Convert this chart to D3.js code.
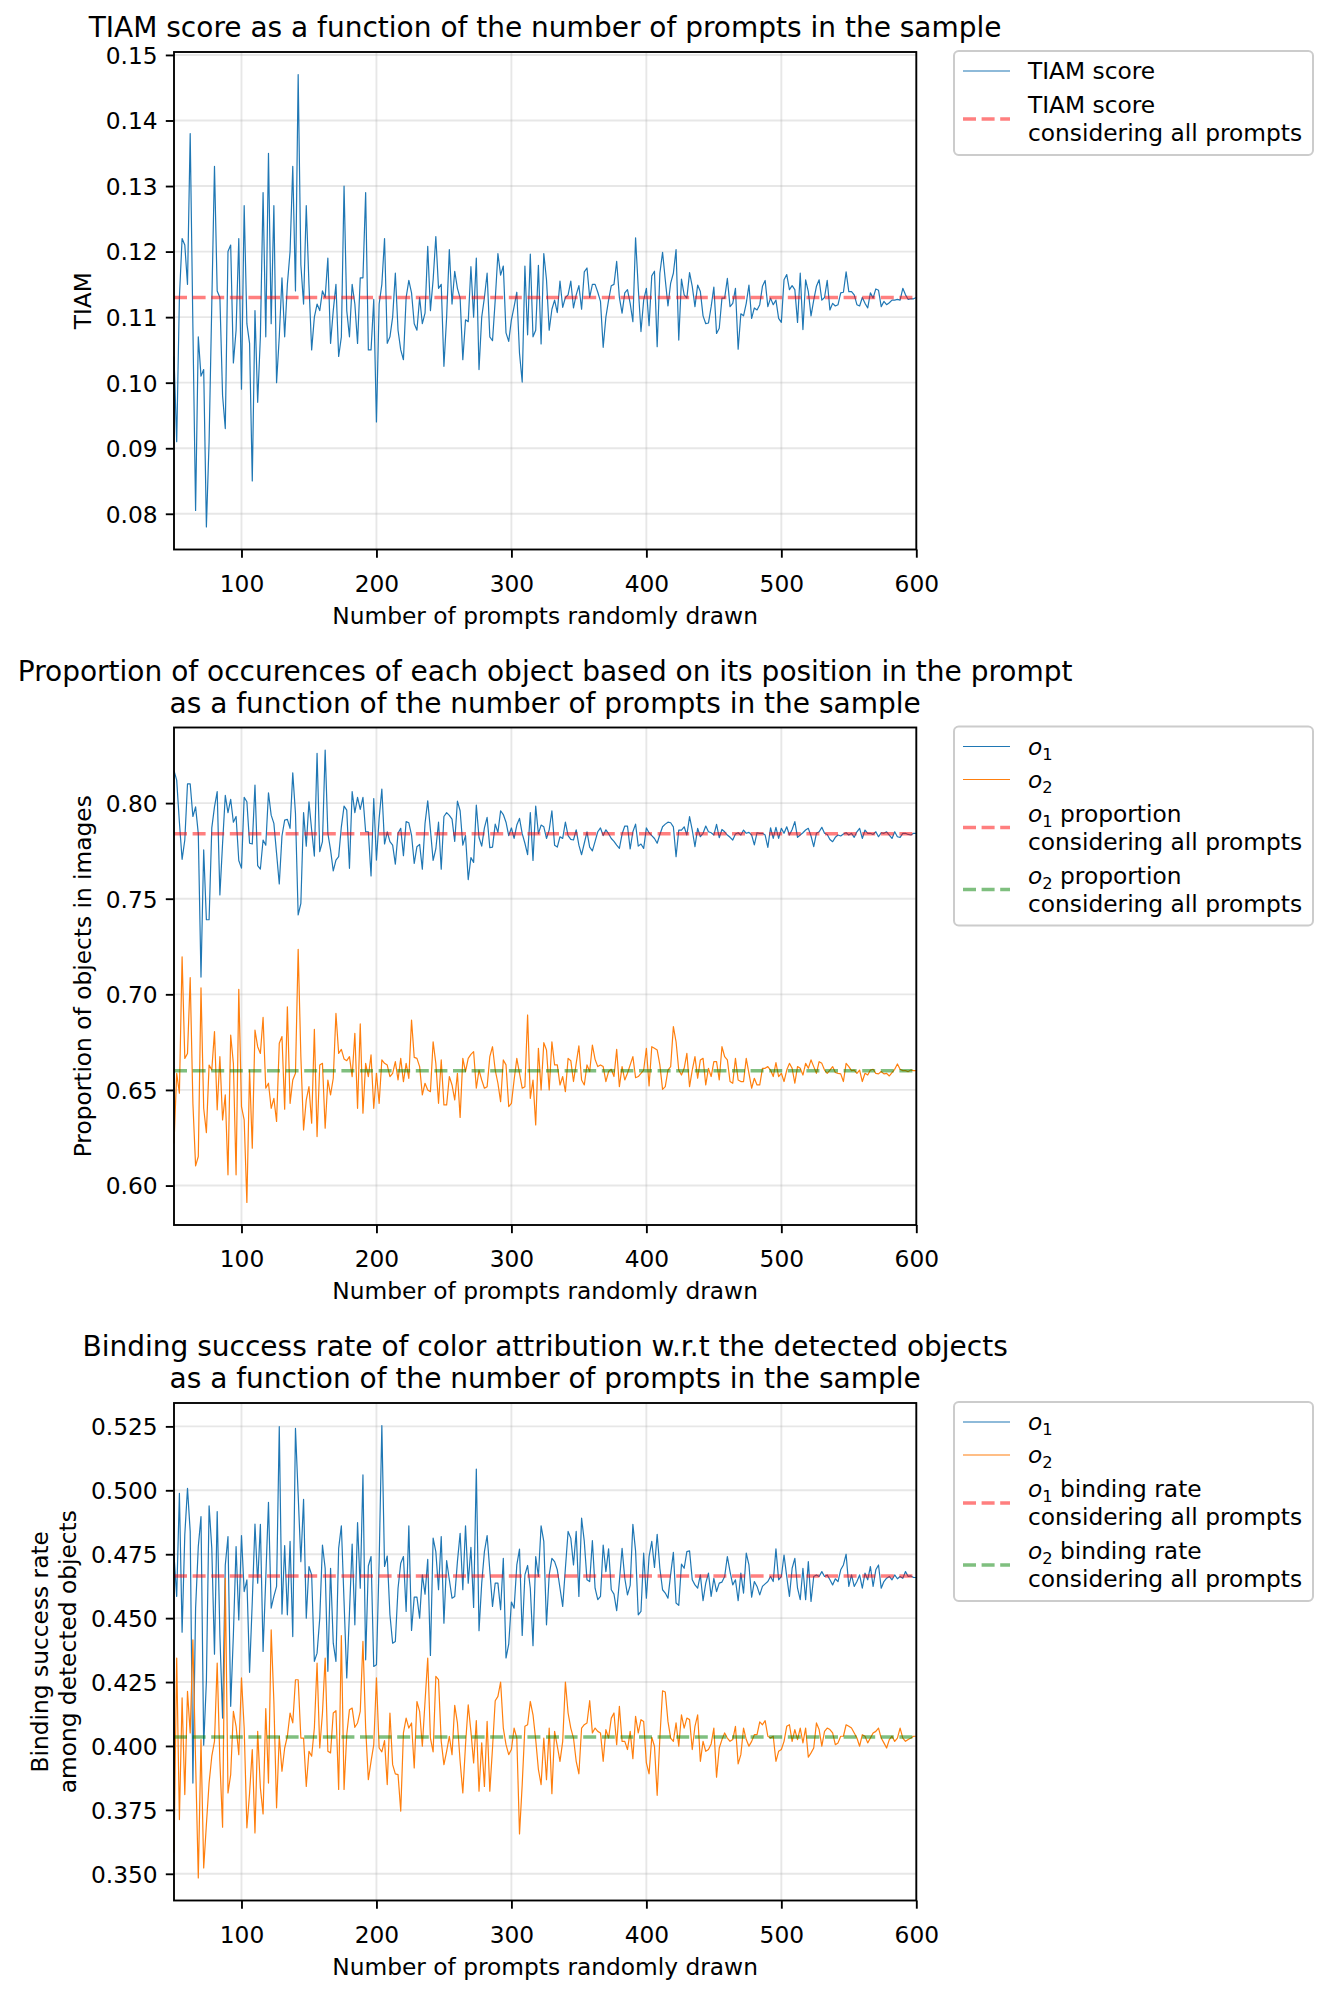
<!DOCTYPE html>
<html>
<head>
<meta charset="utf-8">
<script src="https://cdn.jsdelivr.net/npm/d3@7"></script>
<style>
  body { margin: 0; background: #fff; }
  svg { display: block; }
  text { font-family: "DejaVu Sans", sans-serif; fill: #000; }
</style>
</head>
<body>
<svg id="chart"></svg>
<script>
// number of prompts drawn for each sample
const promptCounts = d3.range(50, 601, 2);

const tiamScore = [
  0.104, 0.091, 0.113, 0.122, 0.121, 0.115, 0.138, 0.1085, 0.0805, 0.107,
  0.101, 0.102, 0.078, 0.091, 0.112, 0.133, 0.114, 0.113, 0.098, 0.093,
  0.120, 0.121, 0.103, 0.108, 0.122, 0.099, 0.127, 0.109, 0.106, 0.085,
  0.111, 0.097, 0.107, 0.129, 0.107, 0.135, 0.109, 0.127, 0.100, 0.107,
  0.116, 0.107, 0.115, 0.120, 0.133, 0.114, 0.147, 0.118, 0.112, 0.127,
  0.115, 0.105, 0.110, 0.112, 0.111, 0.114, 0.113, 0.119, 0.106, 0.111,
  0.115, 0.104, 0.107, 0.130, 0.111, 0.107, 0.115, 0.112, 0.106, 0.116,
  0.116, 0.129, 0.105, 0.105, 0.1127, 0.094, 0.112, 0.115, 0.122, 0.106,
  0.107, 0.110, 0.1167, 0.108, 0.105, 0.1035, 0.113, 0.1156, 0.1137, 0.109,
  0.108, 0.113, 0.109, 0.1106, 0.1208, 0.111, 0.1157, 0.1223, 0.1144, 0.115,
  0.1025, 0.110, 0.1203, 0.112, 0.117, 0.1144, 0.1129, 0.1035, 0.1096, 0.1093,
  0.1177, 0.110, 0.119, 0.102, 0.110, 0.113, 0.1167, 0.107, 0.1064, 0.1126,
  0.1197, 0.1164, 0.1178, 0.1076, 0.1063, 0.1096, 0.1116, 0.1138, 0.1045, 0.1001,
  0.1178, 0.1073, 0.1196, 0.107, 0.108, 0.1179, 0.1059, 0.1197, 0.1157, 0.108,
  0.1112, 0.1126, 0.1107, 0.1155, 0.1115, 0.113, 0.1134, 0.1155, 0.1114, 0.1134,
  0.1148, 0.1112, 0.1169, 0.1175, 0.113, 0.115, 0.115, 0.1138, 0.1124, 0.1054,
  0.110, 0.1126, 0.1148, 0.115, 0.1185, 0.113, 0.1106, 0.1137, 0.1142, 0.1121,
  0.1093, 0.1221, 0.1144, 0.1078, 0.1126, 0.1144, 0.1087, 0.1163, 0.117, 0.1055,
  0.1167, 0.1199, 0.1157, 0.1117, 0.1152, 0.1167, 0.1203, 0.1065, 0.1158, 0.1134,
  0.1129, 0.1168, 0.1147, 0.1116, 0.1149, 0.1139, 0.1102, 0.1090, 0.1091, 0.1116,
  0.1146, 0.1075, 0.1083, 0.1129, 0.1129, 0.1159, 0.1116, 0.1121, 0.1144, 0.1051,
  0.1105, 0.1102, 0.1121, 0.1149, 0.1098, 0.1114, 0.1111, 0.1119, 0.1147, 0.1156,
  0.1116, 0.1129, 0.1119, 0.1126, 0.1098, 0.1092, 0.1157, 0.1165, 0.1142, 0.1148,
  0.1142, 0.1092, 0.1167, 0.1081, 0.1157, 0.1139, 0.1102, 0.1126, 0.1147, 0.1157,
  0.1126, 0.1130, 0.1156, 0.1111, 0.1121, 0.1117, 0.1119, 0.1137, 0.1138, 0.1169,
  0.1139, 0.1139, 0.1134, 0.1119, 0.1117, 0.1130, 0.1121, 0.1114, 0.1137, 0.1129,
  0.1143, 0.1141, 0.1116, 0.1124, 0.1119, 0.1122, 0.1126, 0.1126, 0.1127, 0.1126,
  0.1144, 0.1134, 0.1127, 0.1128, 0.1128, 0.1130
];
const tiamAllPrompts = 0.113;

const o1Proportion = [
  0.817, 0.812, 0.790, 0.7706, 0.7807, 0.810, 0.810, 0.793, 0.798, 0.784,
  0.709, 0.7755, 0.739, 0.739, 0.787, 0.798, 0.806, 0.752, 0.779, 0.804,
  0.795, 0.802, 0.790, 0.793, 0.770, 0.766, 0.803, 0.8007, 0.779, 0.7786,
  0.8094, 0.7673, 0.7655, 0.7807, 0.778, 0.8054, 0.7937, 0.7894, 0.7737, 0.7577,
  0.7828, 0.7911, 0.7915, 0.7868, 0.8158, 0.7946, 0.7415, 0.7476, 0.795, 0.7775,
  0.8007, 0.7859, 0.7723, 0.826, 0.7746, 0.7798, 0.8277, 0.7842, 0.7755, 0.7645,
  0.7702, 0.772, 0.7876, 0.7984, 0.7963, 0.7659, 0.806, 0.795, 0.803, 0.7967,
  0.803, 0.785, 0.785, 0.7619, 0.8024, 0.7702, 0.792, 0.8073, 0.7786, 0.785,
  0.7798, 0.778, 0.7681, 0.7842, 0.7868, 0.7725, 0.7903, 0.7897, 0.7833, 0.7685,
  0.7772, 0.7784, 0.7654, 0.7894, 0.8012,
  0.786, 0.770, 0.776, 0.790, 0.7654, 0.793, 0.795, 0.7936, 0.7916, 0.780,
  0.801, 0.796, 0.778, 0.783, 0.760, 0.7715, 0.769, 0.799, 0.782, 0.7775,
  0.787, 0.7925, 0.7767, 0.777, 0.789, 0.7847, 0.796, 0.794, 0.790, 0.783,
  0.787, 0.7815, 0.7885, 0.792, 0.784, 0.779, 0.773, 0.795, 0.770, 0.7984,
  0.784, 0.7885, 0.7876, 0.7815, 0.786, 0.796, 0.778, 0.777, 0.7824, 0.7815,
  0.790, 0.783, 0.781, 0.7807, 0.786, 0.778, 0.773, 0.779, 0.785, 0.777,
  0.775, 0.780, 0.785, 0.787, 0.783, 0.786, 0.784, 0.7815, 0.780, 0.778,
  0.7763, 0.7838, 0.788, 0.788, 0.776, 0.785, 0.789, 0.7775, 0.7786, 0.7763,
  0.787, 0.7845, 0.783, 0.7815, 0.779, 0.7836, 0.7876, 0.789, 0.790, 0.7897,
  0.7876, 0.772,
  0.7859, 0.7859, 0.7876, 0.7833, 0.7929, 0.7859, 0.7772, 0.7868, 0.7824, 0.7842,
  0.7880, 0.7850, 0.7845, 0.7833, 0.7889, 0.7819, 0.7862, 0.7850, 0.7833, 0.7821,
  0.7807, 0.7838, 0.7845, 0.7833, 0.7859, 0.7842, 0.7847, 0.7833, 0.7781, 0.7845,
  0.7842, 0.7842, 0.7833, 0.7768, 0.7871, 0.7815, 0.7873, 0.7815, 0.7868, 0.7842,
  0.7876, 0.7833, 0.7862, 0.7903, 0.7821, 0.7833, 0.7845, 0.7859, 0.7868, 0.7828,
  0.7772, 0.7842, 0.7850, 0.7873, 0.7842, 0.7836, 0.7810, 0.7798, 0.7821, 0.7833,
  0.7828, 0.7838, 0.7845, 0.7833, 0.7842, 0.7821, 0.7850, 0.7868, 0.7815, 0.7859,
  0.7842, 0.7842, 0.7836, 0.7850, 0.7824, 0.7845, 0.7842, 0.7850, 0.7833, 0.7815,
  0.7850, 0.7824, 0.7821, 0.7842, 0.7842, 0.7836, 0.7833, 0.7842, 0.7842
];
const o2Proportion = [
  0.622, 0.6587, 0.6483, 0.7196, 0.6665, 0.6691, 0.7087, 0.643, 0.6103, 0.6152,
  0.7034, 0.6404, 0.6277, 0.663, 0.6604, 0.6805, 0.6396, 0.6674, 0.6343, 0.6474,
  0.6056, 0.6787, 0.6639, 0.6056, 0.7026, 0.6413, 0.6343, 0.5912, 0.6604, 0.6195,
  0.6813, 0.6726, 0.6691, 0.6879, 0.6509, 0.6535, 0.6404, 0.6456, 0.6335, 0.6744,
  0.6779, 0.6399, 0.6935, 0.643, 0.6552, 0.6587, 0.7235, 0.6674, 0.6291, 0.6448,
  0.6517, 0.6326, 0.6817, 0.6256, 0.663, 0.6639, 0.63, 0.6552, 0.6474, 0.6561,
  0.69, 0.6691, 0.6712, 0.6662, 0.6653, 0.6674, 0.657, 0.6796, 0.6404, 0.6845,
  0.6378, 0.6639, 0.657, 0.6683, 0.6404, 0.6587, 0.643, 0.6657, 0.6639, 0.663,
  0.657, 0.6587, 0.6648, 0.6552, 0.6665, 0.6543, 0.6639, 0.6561, 0.6865, 0.667,
  0.6665, 0.6622, 0.6474, 0.6535, 0.65,
  0.6491, 0.6752, 0.6639, 0.6430, 0.6657, 0.6422, 0.6422, 0.6570, 0.6526, 0.6448,
  0.6587, 0.6356, 0.6665, 0.6596, 0.6665, 0.6686, 0.6700, 0.6509, 0.6604, 0.6552,
  0.6509, 0.6517, 0.6674, 0.6726, 0.6604, 0.6535, 0.6439, 0.6657, 0.6631, 0.6413,
  0.6430, 0.6552, 0.6665, 0.6587, 0.6509, 0.6517, 0.6892, 0.6456, 0.6552, 0.6317,
  0.6718, 0.6500, 0.6747, 0.6709, 0.6500, 0.6752, 0.6631, 0.6631, 0.6526, 0.6570,
  0.6491, 0.6665, 0.6653, 0.6544, 0.6639, 0.6730, 0.6552, 0.6526, 0.6631, 0.6596,
  0.6735, 0.6660, 0.6622, 0.6631, 0.6622, 0.6544, 0.6596, 0.6608, 0.6570, 0.6712,
  0.6517, 0.6622, 0.6552, 0.6587, 0.6631, 0.6674, 0.6564, 0.6570, 0.6587, 0.6604,
  0.6718, 0.6521, 0.6726, 0.6718, 0.6709, 0.6631, 0.6503, 0.6517, 0.6604, 0.6622,
  0.6831, 0.6752,
  0.6604, 0.6578, 0.6613, 0.6691, 0.6517, 0.6604, 0.6674, 0.6561, 0.6657, 0.6665,
  0.6526, 0.6613, 0.6570, 0.6648, 0.6648, 0.6552, 0.6726, 0.6674, 0.6657, 0.6544,
  0.6535, 0.6665, 0.6552, 0.6544, 0.6544, 0.6665, 0.6587, 0.6509, 0.6561, 0.6526,
  0.6526, 0.6613, 0.6613, 0.6622, 0.6604, 0.6570, 0.6643, 0.6570, 0.6587, 0.6544,
  0.6604, 0.6639, 0.6613, 0.6535, 0.6622, 0.6613, 0.6578, 0.6639, 0.6613, 0.6657,
  0.6622, 0.6587, 0.6648, 0.6639, 0.6604, 0.6587, 0.6604, 0.6622, 0.6591, 0.6587,
  0.6584, 0.6544, 0.6639, 0.6622, 0.6601, 0.6604, 0.6587, 0.6604, 0.6544, 0.6587,
  0.6578, 0.6604, 0.6608, 0.6587, 0.6584, 0.6596, 0.6584, 0.6587, 0.6573, 0.6591,
  0.6608, 0.6636, 0.6608, 0.6601, 0.6601, 0.6596, 0.6604, 0.6601, 0.6601
];
const o1ProportionAll = 0.784;
const o2ProportionAll = 0.660;

const o1Binding = [
  0.4747, 0.4585, 0.4988, 0.4445, 0.4826, 0.5008, 0.4839, 0.3855, 0.4539, 0.478,
  0.4897, 0.4003, 0.4253, 0.4939, 0.4773, 0.4359, 0.4917, 0.4435, 0.4109, 0.4708,
  0.4819, 0.4155, 0.4435, 0.478, 0.4493, 0.4823, 0.4604, 0.465, 0.4288, 0.4565,
  0.4868, 0.4637, 0.4867, 0.437, 0.4656, 0.4953, 0.4539, 0.4585, 0.4624, 0.5249,
  0.4516, 0.4784, 0.4513, 0.48, 0.4428, 0.5242, 0.4982, 0.4721, 0.4965, 0.45,
  0.4702, 0.4669, 0.4331, 0.4363, 0.45, 0.4786, 0.4695, 0.4292, 0.4695, 0.4402,
  0.4331, 0.4773, 0.4861, 0.4565, 0.4266, 0.452, 0.479, 0.4474, 0.4874, 0.4617,
  0.506, 0.4337, 0.4704, 0.4741, 0.4311, 0.4318, 0.4721, 0.5253, 0.4702, 0.4743,
  0.4513, 0.4402, 0.4409, 0.4617, 0.4715, 0.4741, 0.4526, 0.4861, 0.4452, 0.4582,
  0.4582, 0.45, 0.4669, 0.4594, 0.473,
  0.4354, 0.4813, 0.4760, 0.4611, 0.4819, 0.448, 0.4725, 0.465, 0.4578, 0.4585,
  0.4721, 0.4832, 0.4611, 0.4861, 0.4637, 0.4777, 0.4542, 0.5083, 0.4451, 0.4637,
  0.476, 0.4823, 0.4686, 0.4546, 0.4637, 0.4637, 0.4533, 0.4734, 0.4344, 0.4398,
  0.4563, 0.4539, 0.4708, 0.477, 0.4432, 0.4669, 0.4706, 0.4617, 0.4392, 0.4741,
  0.4663, 0.4861, 0.48, 0.4474, 0.4669, 0.4734, 0.4721, 0.4689, 0.4617, 0.4546,
  0.4695, 0.4839, 0.4813, 0.4708, 0.4839, 0.4585, 0.4891, 0.48, 0.465, 0.4643,
  0.4803, 0.4617, 0.4572, 0.4585, 0.4786, 0.4682, 0.4771, 0.4611, 0.4594, 0.4529,
  0.4643, 0.4773, 0.4656, 0.4591, 0.4628, 0.4867, 0.4763, 0.4513, 0.4526, 0.4754,
  0.4578, 0.4741, 0.48, 0.4698, 0.4828, 0.4695, 0.4611, 0.4598, 0.4578, 0.4672,
  0.4757, 0.4559,
  0.455, 0.4711, 0.4695, 0.476, 0.4763, 0.465, 0.463, 0.4617, 0.4669, 0.4568,
  0.4637, 0.4676, 0.4585, 0.4656, 0.4604, 0.4637, 0.4641, 0.4663, 0.4741, 0.4682,
  0.463, 0.465, 0.4568, 0.4676, 0.4598, 0.4754, 0.4708, 0.4582, 0.4643, 0.4624,
  0.4591, 0.4624, 0.4634, 0.4643, 0.4663, 0.4643, 0.4771, 0.465, 0.4663, 0.4747,
  0.4663, 0.4585, 0.4695, 0.4734, 0.4617, 0.4572, 0.4695, 0.4572, 0.4721, 0.4565,
  0.4663, 0.4669, 0.4663, 0.4682, 0.4663, 0.4669, 0.465, 0.463, 0.4654, 0.4643,
  0.4689, 0.4708, 0.475, 0.4624, 0.4669, 0.4624, 0.4643, 0.4669, 0.4617, 0.4676,
  0.465, 0.4702, 0.4624, 0.4689, 0.4708, 0.4617, 0.4643, 0.4656, 0.4663, 0.465,
  0.4669, 0.4654, 0.4663, 0.4656, 0.4682, 0.4663, 0.4665, 0.4659, 0.4659
];
const o2Binding = [
  0.3582, 0.4344, 0.3712, 0.4188, 0.381, 0.4214, 0.4051, 0.4415, 0.394, 0.3484,
  0.4025, 0.3523, 0.3693, 0.3855, 0.396, 0.4018, 0.4324, 0.394, 0.3682, 0.4656,
  0.3816, 0.3888, 0.4135, 0.4077, 0.3966, 0.4266, 0.407, 0.368, 0.3816, 0.3986,
  0.366, 0.4057, 0.3836, 0.3734, 0.4146, 0.3855, 0.4454, 0.4174, 0.3758, 0.4038,
  0.3901, 0.3992, 0.4038, 0.4129, 0.409, 0.4259, 0.4259, 0.4031, 0.4031, 0.3842,
  0.3979, 0.396, 0.407, 0.4324, 0.3992, 0.4129, 0.4344, 0.3979, 0.3973, 0.4129,
  0.4138, 0.383, 0.4432, 0.383, 0.4044, 0.4142, 0.4148, 0.4073, 0.409, 0.4135,
  0.4409, 0.407, 0.3868, 0.394, 0.4005, 0.4266, 0.3992, 0.3977, 0.4021, 0.3849,
  0.4129, 0.3927, 0.3891, 0.3888, 0.3745, 0.4051, 0.4109, 0.407, 0.409, 0.3914,
  0.4174, 0.4135, 0.3999, 0.4174, 0.4344,
  0.4031, 0.3977, 0.4272, 0.4259, 0.4018, 0.3927, 0.3979, 0.4038, 0.3966, 0.4159,
  0.409, 0.394, 0.3816, 0.4005, 0.4161, 0.4057, 0.3934, 0.4099, 0.3823, 0.4012,
  0.3842, 0.4096, 0.3823, 0.3992, 0.4177, 0.4194, 0.425, 0.407, 0.4005, 0.3966,
  0.3986, 0.407, 0.4031, 0.3656, 0.3849, 0.4077, 0.4083, 0.4174, 0.4122, 0.4025,
  0.3908, 0.3849, 0.4031, 0.3868, 0.407, 0.3813, 0.4057, 0.3999, 0.394, 0.4018,
  0.425, 0.4129, 0.407, 0.4031, 0.394, 0.3891, 0.407, 0.4083, 0.409, 0.4177,
  0.4051, 0.407, 0.4057, 0.4051, 0.394, 0.4064, 0.4031, 0.4109, 0.4129, 0.4005,
  0.4155, 0.4018, 0.4018, 0.3986, 0.4057, 0.395, 0.4116, 0.4051, 0.4103, 0.4096,
  0.3934, 0.3891, 0.4034, 0.3999, 0.3807, 0.4031, 0.4216, 0.4211, 0.4096, 0.4031,
  0.4018, 0.409,
  0.3999, 0.4122, 0.407, 0.4109, 0.4103, 0.3986, 0.4077, 0.4122, 0.394, 0.4018,
  0.3979, 0.3986, 0.4008, 0.407, 0.3878, 0.3992, 0.4025, 0.4051, 0.4031, 0.4018,
  0.4025, 0.4077, 0.393, 0.3966, 0.407, 0.4025, 0.3999, 0.4018, 0.4044, 0.4044,
  0.4094, 0.4083, 0.4099, 0.4038, 0.4031, 0.4038, 0.394, 0.3979, 0.3986, 0.4018,
  0.4077, 0.4083, 0.4018, 0.4064, 0.4025, 0.407, 0.4012, 0.407, 0.3956, 0.3973,
  0.3992, 0.409, 0.4064, 0.3999, 0.4057, 0.407, 0.4064, 0.4051, 0.4005, 0.4012,
  0.4038, 0.4038, 0.4083, 0.4077, 0.407, 0.4051, 0.4031, 0.3999, 0.4044, 0.4038,
  0.4012, 0.4031, 0.4051, 0.4057, 0.407, 0.4031, 0.4012, 0.3992, 0.4025, 0.4038,
  0.4018, 0.4031, 0.407, 0.4031, 0.4018, 0.4025, 0.4031, 0.4038, 0.4038
];
const o1BindingAll = 0.4665;
const o2BindingAll = 0.4035;

const xTicks = [100, 200, 300, 400, 500, 600];
const tiamTicks = [0.08, 0.09, 0.10, 0.11, 0.12, 0.13, 0.14, 0.15];
const proportionTicks = [0.60, 0.65, 0.70, 0.75, 0.80];
const bindingTicks = [0.350, 0.375, 0.400, 0.425, 0.450, 0.475, 0.500, 0.525];

const BLUE = '#1f77b4', ORANGE = '#ff7f0e', RED = '#ff0000', GREEN = '#008000';
const FS = 23.3, TITLE_FS = 28;
const PLOT_H = 497.5;

const svg = d3.select('#chart').attr('width', 1328).attr('height', 1996);
const x = d3.scaleLinear().domain([50, 600]).range([174, 916.3]);

// write a label made of parts, e.g. italic "o" with subscript "1"
function writeParts(textSel, parts) {
  parts.forEach(p => {
    const ts = textSel.append('tspan').text(p.t);
    if (p.it) ts.attr('font-style', 'italic');
    if (p.sub) ts.attr('font-size', FS * 0.7).attr('dy', 5);
    if (p.after) ts.attr('dy', -5);
  });
}

function drawLegend(top, entries) {
  const lx = 954, lw = 359;
  const g = svg.append('g');
  const frame = g.append('rect');
  let y = top + 20, prevSingle = null;
  const rows = [];
  entries.forEach(e => {
    if (prevSingle !== null) y += (prevSingle && e.lines.length === 1) ? 33 : 34;
    const ys = e.lines.map((l, k) => y + k * 28);
    rows.push({ e, ys });
    y = ys[ys.length - 1];
    prevSingle = e.lines.length === 1;
  });
  const h = y + 22 - top;
  frame.attr('x', lx).attr('y', top).attr('width', lw).attr('height', h)
    .attr('rx', 4.7).attr('fill', '#fff').attr('fill-opacity', 0.8)
    .attr('stroke', '#cccccc').attr('stroke-width', 2);
  rows.forEach(({ e, ys }) => {
    const hy = d3.mean(ys);
    const hl = g.append('line').attr('x1', 963).attr('x2', 1010).attr('y1', hy).attr('y2', hy)
      .attr('stroke', e.color).attr('stroke-width', e.width);
    if (e.dash) hl.attr('stroke-dasharray', '13 5.6').attr('stroke-opacity', 0.5);
    e.lines.forEach((parts, k) => {
      const t = g.append('text').attr('x', 1028).attr('y', ys[k] + 8).attr('font-size', FS);
      writeParts(t, parts);
    });
  });
}

function drawPanel(p) {
  const g = svg.append('g');
  const top = p.top, bottom = top + PLOT_H;
  const values = p.series.flatMap(s => s.values);
  const [lo, hi] = d3.extent(values);
  const pad = (hi - lo) * 0.05;
  const y = d3.scaleLinear().domain([lo - pad, hi + pad]).range([bottom, top]);

  // grid
  g.append('g').selectAll('line').data(xTicks).join('line')
    .attr('x1', d => x(d)).attr('x2', d => x(d)).attr('y1', top).attr('y2', bottom)
    .attr('stroke', '#b0b0b0').attr('stroke-opacity', 0.3).attr('stroke-width', 1.87);
  g.append('g').selectAll('line').data(p.yTicks).join('line')
    .attr('x1', x(50)).attr('x2', x(600)).attr('y1', d => y(d)).attr('y2', d => y(d))
    .attr('stroke', '#b0b0b0').attr('stroke-opacity', 0.3).attr('stroke-width', 1.87);

  // series
  const line = d3.line().x((d, i) => x(promptCounts[i])).y(d => y(d));
  p.series.forEach(s => {
    g.append('path').datum(s.values).attr('d', line)
      .attr('fill', 'none').attr('stroke', s.color).attr('stroke-width', 1.2)
      .attr('stroke-linejoin', 'round');
  });

  // values over all prompts
  p.refs.forEach(r => {
    g.append('line').attr('x1', x(50)).attr('x2', x(600))
      .attr('y1', y(r.value)).attr('y2', y(r.value))
      .attr('stroke', r.color).attr('stroke-opacity', 0.5).attr('stroke-width', 3.5)
      .attr('stroke-dasharray', '13 5.6');
  });

  // axes
  const ax = g.append('g').attr('transform', `translate(0,${bottom})`)
    .call(d3.axisBottom(x).tickValues(xTicks).tickSize(8.2).tickFormat(d3.format('d')));
  ax.attr('font-size', FS).attr('font-family', '"DejaVu Sans", sans-serif');
  ax.select('.domain').remove();
  ax.selectAll('line').attr('stroke', '#000').attr('stroke-width', 1.87);
  ax.selectAll('text').attr('dy', null).attr('y', 42).attr('fill', '#000');

  const ay = g.append('g').attr('transform', `translate(${x(50)},0)`)
    .call(d3.axisLeft(y).tickValues(p.yTicks).tickSize(8.2).tickPadding(8.2).tickFormat(d3.format(p.yFormat)));
  ay.attr('font-size', FS).attr('font-family', '"DejaVu Sans", sans-serif');
  ay.select('.domain').remove();
  ay.selectAll('line').attr('stroke', '#000').attr('stroke-width', 1.87);
  ay.selectAll('text').attr('dy', '0.36em').attr('fill', '#000');

  // frame
  g.append('rect').attr('x', x(50)).attr('y', top).attr('width', x(600) - x(50)).attr('height', PLOT_H)
    .attr('fill', 'none').attr('stroke', '#000').attr('stroke-width', 1.87);

  // titles and labels
  const cx = (x(50) + x(600)) / 2;
  const nT = p.title.length;
  p.title.forEach((t, k) => {
    g.append('text').attr('x', cx).attr('y', top - 15 - (nT - 1 - k) * 32)
      .attr('text-anchor', 'middle').attr('font-size', TITLE_FS).text(t);
  });
  g.append('text').attr('x', cx).attr('y', bottom + 74).attr('text-anchor', 'middle')
    .attr('font-size', FS).text('Number of prompts randomly drawn');
  const nY = p.yLabel.length;
  const yl = g.append('text').attr('transform', `translate(${p.yLabelX},${(top + bottom) / 2}) rotate(-90)`)
    .attr('text-anchor', 'middle').attr('font-size', FS);
  p.yLabel.forEach((t, k) => {
    yl.append('tspan').attr('x', 0).attr('y', (k - (nY - 1)) * 28).text(t);
  });

  drawLegend(top - 1, p.legend);
}

const o1 = [{ t: 'o', it: true }, { t: '1', sub: true }];
const o2 = [{ t: 'o', it: true }, { t: '2', sub: true }];

drawPanel({
  top: 52,
  title: ['TIAM score as a function of the number of prompts in the sample'],
  yLabel: ['TIAM'], yLabelX: 91,
  yTicks: tiamTicks, yFormat: '.2f',
  series: [{ values: tiamScore, color: BLUE }],
  refs: [{ value: tiamAllPrompts, color: RED }],
  legend: [
    { color: BLUE, width: 1.2, lines: [[{ t: 'TIAM score' }]] },
    { color: RED, width: 3.5, dash: true, lines: [[{ t: 'TIAM score' }], [{ t: 'considering all prompts' }]] }
  ]
});

drawPanel({
  top: 727.5,
  title: ['Proportion of occurences of each object based on its position in the prompt',
          'as a function of the number of prompts in the sample'],
  yLabel: ['Proportion of objects in images'], yLabelX: 91,
  yTicks: proportionTicks, yFormat: '.2f',
  series: [{ values: o1Proportion, color: BLUE }, { values: o2Proportion, color: ORANGE }],
  refs: [{ value: o1ProportionAll, color: RED }, { value: o2ProportionAll, color: GREEN }],
  legend: [
    { color: BLUE, width: 1.2, lines: [o1] },
    { color: ORANGE, width: 1.2, lines: [o2] },
    { color: RED, width: 3.5, dash: true, lines: [o1.concat([{ t: ' proportion', after: true }]), [{ t: 'considering all prompts' }]] },
    { color: GREEN, width: 3.5, dash: true, lines: [o2.concat([{ t: ' proportion', after: true }]), [{ t: 'considering all prompts' }]] }
  ]
});

drawPanel({
  top: 1403,
  title: ['Binding success rate of color attribution w.r.t the detected objects',
          'as a function of the number of prompts in the sample'],
  yLabel: ['Binding success rate', 'among detected objects'], yLabelX: 76,
  yTicks: bindingTicks, yFormat: '.3f',
  series: [{ values: o1Binding, color: BLUE }, { values: o2Binding, color: ORANGE }],
  refs: [{ value: o1BindingAll, color: RED }, { value: o2BindingAll, color: GREEN }],
  legend: [
    { color: BLUE, width: 1.2, lines: [o1] },
    { color: ORANGE, width: 1.2, lines: [o2] },
    { color: RED, width: 3.5, dash: true, lines: [o1.concat([{ t: ' binding rate', after: true }]), [{ t: 'considering all prompts' }]] },
    { color: GREEN, width: 3.5, dash: true, lines: [o2.concat([{ t: ' binding rate', after: true }]), [{ t: 'considering all prompts' }]] }
  ]
});
</script>
</body>
</html>
